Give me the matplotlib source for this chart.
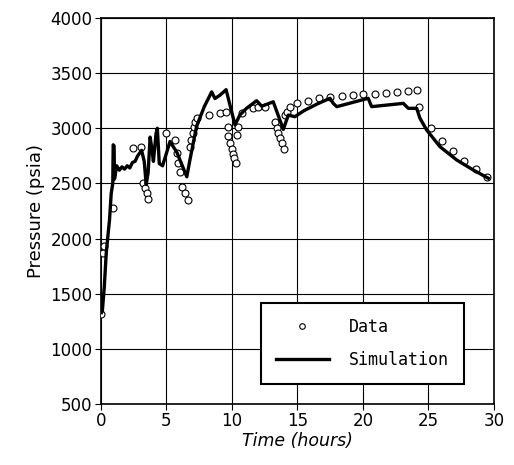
import matplotlib
matplotlib.use("Agg")
import matplotlib.pyplot as plt

# Simulation curve (time in hours, pressure in psia)
sim_t = [0.05, 0.1, 0.25, 0.4, 0.65, 0.78, 0.9, 0.93, 1.0, 1.03, 1.2, 1.4, 1.6, 1.8, 2.0,
         2.2, 2.4, 2.6, 2.8, 3.1, 3.3, 3.45, 3.6, 3.75, 3.9, 4.0, 4.2, 4.3, 4.45, 4.7,
         5.27, 5.8, 6.55, 6.8, 7.3, 7.9, 8.45, 8.7, 9.08, 9.55, 10.23, 10.6, 11.1, 11.88,
         12.27, 13.15, 13.92, 14.3, 14.8, 15.5, 16.5, 17.48, 17.73, 18.0, 20.4, 20.66,
         23.08, 23.46, 24.1, 24.35, 24.86, 25.88, 27.15, 28.42, 29.57]
sim_p = [1330, 1340, 1560, 1870, 2170, 2410, 2500, 2850, 2840, 2540, 2660, 2620, 2650, 2630, 2660,
         2640, 2690, 2700, 2750, 2800, 2700, 2490, 2600, 2920, 2800, 2700, 2950, 3000, 2680, 2660,
         2880, 2780, 2560, 2720, 3020, 3200, 3330, 3270, 3300, 3350, 3030, 3120, 3180, 3250,
         3200, 3240, 2990, 3120, 3105, 3160, 3220, 3272, 3226, 3196, 3272, 3196,
         3226, 3181, 3181, 3091, 2985, 2833, 2713, 2622, 2547]

# Measured data
data_t = [0.0, 0.15, 0.2, 0.95, 2.47, 3.03, 3.23, 3.36, 3.5, 3.62,
          5.0, 5.65, 5.78, 5.9, 6.03, 6.16, 6.4, 6.66,
          6.8, 6.9, 7.0, 7.1, 7.2, 7.3, 8.27, 9.08, 9.54,
          9.67, 9.72, 9.85, 9.97, 10.05, 10.15, 10.3, 10.36, 10.48, 10.74,
          11.63, 12.0, 12.5, 13.28, 13.41, 13.5, 13.66, 13.79, 13.99,
          14.05, 14.17, 14.43, 14.94, 15.83, 16.65, 17.48, 18.37, 19.21, 20.02,
          20.92, 21.76, 22.57, 23.41, 24.15, 24.3, 25.19, 26.05, 26.9, 27.73,
          28.6, 29.44]
data_p = [1320, 1870, 1930, 2280, 2818, 2833, 2501, 2456, 2411, 2359,
          2960, 2894, 2773, 2683, 2607, 2471, 2411, 2350,
          2833, 2894, 2955, 3015, 3060, 3091, 3121, 3136, 3145,
          3009, 2930, 2870, 2810, 2767, 2728, 2683, 2939, 3015, 3136,
          3181, 3196, 3191, 3060, 3000, 2955, 2909, 2864, 2810,
          3121, 3151, 3191, 3226, 3245, 3276, 3287, 3296, 3302, 3308,
          3311, 3317, 3326, 3341, 3347, 3196, 3000, 2888, 2794, 2706,
          2628, 2556]

x_ticks = [0, 5, 10, 15, 20, 25, 30]
y_ticks = [500, 1000, 1500, 2000, 2500, 3000, 3500, 4000]

fig = plt.figure(figsize=(5.14, 4.65), dpi=100)
ax = fig.add_axes([0.1965, 0.1312, 0.7645, 0.8301])

ax.plot(data_t, data_p, linestyle='none', marker='o', markersize=5,
        markerfacecolor='white', markeredgecolor='black', markeredgewidth=0.8,
        label='Data', zorder=3)
ax.plot(sim_t, sim_p, color='black', linewidth=2.4, label='Simulation', zorder=4)

ax.set_xlim(0, 30)
ax.set_ylim(500, 4000)
ax.set_xticks(x_ticks)
ax.set_yticks(y_ticks)
ax.grid(True, color='black', linewidth=0.8)
ax.set_axisbelow(True)
for s in ax.spines.values():
    s.set_linewidth(1.2)
ax.tick_params(direction='out', length=4, width=0.8, labelsize=12, pad=2)

ax.set_xlabel('Time (hours)', fontsize=12.5, style='italic', labelpad=1)
ax.set_ylabel('Pressure (psia)', fontsize=13, labelpad=4)

leg = ax.legend(loc='lower right', bbox_to_anchor=(0.924, 0.052), frameon=True,
                fancybox=False, edgecolor='black', framealpha=1,
                prop={'family': 'DejaVu Sans Mono', 'size': 12},
                handlelength=3.2, borderpad=0.9, labelspacing=0.9,
                handletextpad=1.2, borderaxespad=0, markerscale=0.8)
leg.get_frame().set_linewidth(1.5)

fig.savefig('out.png', dpi=100)
